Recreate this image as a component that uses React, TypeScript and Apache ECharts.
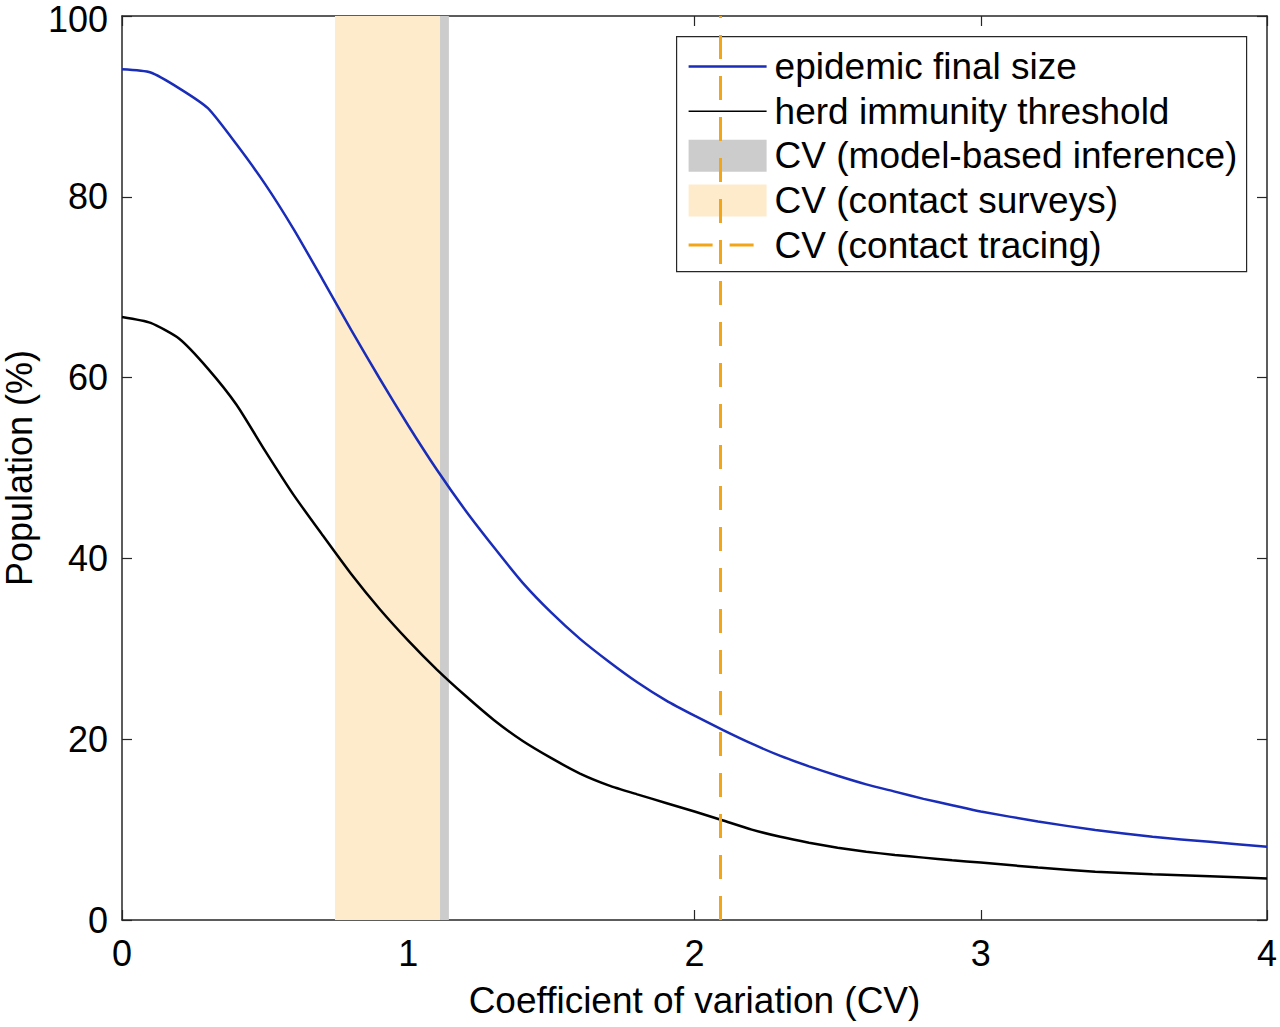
import React, { useEffect, useRef } from "react";
import * as echarts from "echarts";

const cv = [0, 0.1, 0.2, 0.3, 0.4, 0.5, 0.6, 0.7, 0.8, 0.9, 1.0, 1.1, 1.2, 1.3, 1.4, 1.5, 1.6, 1.7, 1.8, 1.9, 2.0, 2.1, 2.2, 2.3, 2.4, 2.5, 2.6, 2.7, 2.8, 2.9, 3.0, 3.2, 3.4, 3.6, 3.8, 4.0];
const finalSize = [94.1, 93.75, 92.0, 89.8, 85.8, 81.4, 76.4, 70.9, 65.3, 59.9, 54.7, 49.8, 45.3, 41.2, 37.3, 34.0, 31.1, 28.6, 26.3, 24.3, 22.6, 21.0, 19.5, 18.15, 17.0, 15.95, 15.0, 14.2, 13.4, 12.7, 12.0, 10.9, 9.95, 9.2, 8.65, 8.1];
const herdThreshold = [66.7, 66.05, 64.3, 61.0, 57.0, 51.9, 47.0, 42.6, 38.3, 34.4, 30.9, 27.7, 24.8, 22.1, 19.8, 17.9, 16.2, 14.9, 13.9, 12.95, 12.0, 11.0, 10.0, 9.2, 8.55, 8.0, 7.55, 7.2, 6.9, 6.6, 6.35, 5.8, 5.35, 5.05, 4.85, 4.6];
const surveyBand = [0.744, 1.111];
const modelBand = [1.111, 1.142];
const tracingCV = 2.086;
const xTicks = [0, 1, 2, 3, 4];
const yTicks = [0, 20, 40, 60, 80, 100];
const legendLabels = [
  "epidemic final size",
  "herd immunity threshold",
  "CV (model-based inference)",
  "CV (contact surveys)",
  "CV (contact tracing)",
];

const BLUE = "#1a2db8";
const BLACK = "#000000";
const ORANGE = "#f2a516";
const TAN = "#fdebcb";
const GRAY = "#cccccc";
const AXIS = "#262626";
const FONT = "Liberation Sans, Arial, Helvetica, sans-serif";

export default function App() {
  const ref = useRef<HTMLDivElement>(null);
  useEffect(() => {
    const chart = echarts.init(ref.current!, null, { renderer: "svg" });
    const toPairs = (ys: number[]) => cv.map((x, i) => [x, ys[i]]);
    const legLeft = 676, legTop = 36, legW = 570, legH = 235;
    const rowY = (i: number) => 30 + i * 44.6;
    const legendChildren: any[] = [
      { type: "rect", shape: { x: 0, y: 0, width: legW, height: legH }, style: { fill: "#fff", stroke: AXIS, lineWidth: 1.2 } },
      { type: "line", shape: { x1: 12, y1: rowY(0), x2: 90, y2: rowY(0) }, style: { stroke: BLUE, lineWidth: 2.5 } },
      { type: "line", shape: { x1: 12, y1: rowY(1), x2: 90, y2: rowY(1) }, style: { stroke: BLACK, lineWidth: 1.5 } },
      { type: "rect", shape: { x: 12, y: rowY(2) - 16, width: 78, height: 32 }, style: { fill: GRAY } },
      { type: "rect", shape: { x: 12, y: rowY(3) - 16, width: 78, height: 32 }, style: { fill: TAN } },
      { type: "line", shape: { x1: 12, y1: rowY(4), x2: 80, y2: rowY(4) }, style: { stroke: ORANGE, lineWidth: 3, lineDash: [24, 17] } },
    ];
    legendLabels.forEach((t, i) => {
      legendChildren.push({
        type: "text",
        x: 98,
        y: rowY(i),
        style: { text: t, font: `37px ${FONT}`, fill: "#000", verticalAlign: "middle" },
      });
    });

    chart.setOption({
      animation: false,
      backgroundColor: "#fff",
      grid: { left: 122, right: 13, top: 16, bottom: 107, containLabel: false, outerBoundsMode: "none" },
      xAxis: [
        {
          type: "value", min: 0, max: 4, interval: 1,
          name: "Coefficient of variation (CV)", nameLocation: "middle", nameGap: 62,
          nameTextStyle: { fontFamily: FONT, fontSize: 37, color: "#000" },
          axisLine: { show: true, onZero: false, lineStyle: { color: AXIS, width: 1.5 } },
          axisTick: { show: true, inside: true, length: 10, lineStyle: { color: AXIS, width: 1.2 } },
          axisLabel: { fontFamily: FONT, fontSize: 36, lineHeight: 30, color: "#000", margin: 18, formatter: (v: number) => (xTicks.includes(v) ? String(v) : "") },
          splitLine: { show: false },
        },
        {
          type: "value", position: "top", min: 0, max: 4, interval: 1,
          axisLine: { show: true, onZero: false, lineStyle: { color: AXIS, width: 1.5 } },
          axisTick: { show: true, inside: true, length: 10, lineStyle: { color: AXIS, width: 1.2 } },
          axisLabel: { show: false },
          splitLine: { show: false },
        },
      ],
      yAxis: [
        {
          type: "value", min: 0, max: 100, interval: 20,
          name: "Population (%)", nameLocation: "middle", nameGap: 80, nameRotate: 90,
          nameTextStyle: { fontFamily: FONT, fontSize: 36, color: "#000" },
          axisLine: { show: true, onZero: false, lineStyle: { color: AXIS, width: 1.5 } },
          axisTick: { show: true, inside: true, length: 10, lineStyle: { color: AXIS, width: 1.2 } },
          axisLabel: {
            fontFamily: FONT, fontSize: 36, lineHeight: 30, color: "#000", margin: 14,
            formatter: (v: number) => (v === 100 ? "{t|100}" : yTicks.includes(v) ? String(v) : ""),
            rich: { t: { fontFamily: FONT, fontSize: 36, lineHeight: 30, color: "#000", padding: [7, 0, 0, 0] } },
          },
          splitLine: { show: false },
        },
        {
          type: "value", position: "right", min: 0, max: 100, interval: 20,
          axisLine: { show: true, onZero: false, lineStyle: { color: AXIS, width: 1.5 } },
          axisTick: { show: true, inside: true, length: 10, lineStyle: { color: AXIS, width: 1.2 } },
          axisLabel: { show: false },
          splitLine: { show: false },
        },
      ],
      series: [
        {
          name: "bands",
          type: "line",
          data: [],
          z: 1,
          silent: true,
          markArea: {
            silent: true,
            data: [
              [{ xAxis: surveyBand[0], itemStyle: { color: TAN } }, { xAxis: surveyBand[1] }],
              [{ xAxis: modelBand[0], itemStyle: { color: GRAY } }, { xAxis: modelBand[1] }],
            ],
          },
          markLine: {
            silent: true,
            symbol: "none",
            label: { show: false },
            lineStyle: { color: ORANGE, width: 3, type: [24, 17] },
            data: [{ xAxis: tracingCV }],
          },
        },
        {
          name: "epidemic final size",
          type: "line",
          data: toPairs(finalSize),
          smooth: 0.2,
          showSymbol: false,
          z: 3,
          lineStyle: { color: BLUE, width: 2.5 },
        },
        {
          name: "herd immunity threshold",
          type: "line",
          data: toPairs(herdThreshold),
          smooth: 0.2,
          showSymbol: false,
          z: 3,
          lineStyle: { color: BLACK, width: 2.5 },
        },
      ],
      graphic: [
        { type: "group", left: legLeft, top: legTop, z: 100, children: legendChildren },
      ],
    });
    return () => chart.dispose();
  }, []);
  return <div ref={ref} style={{ width: 1280, height: 1027, position: "absolute", left: 0, top: 0 }} />;
}
